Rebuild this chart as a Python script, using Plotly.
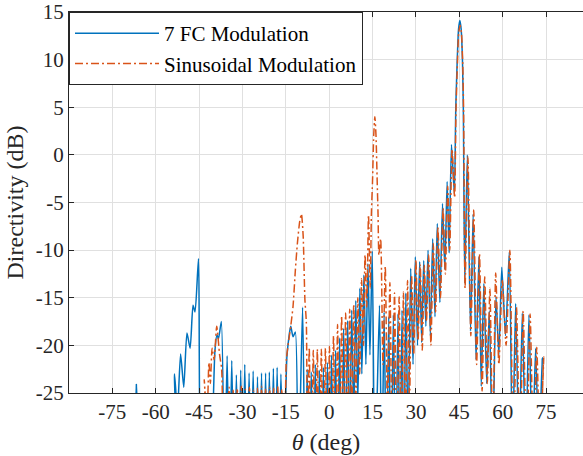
import plotly.graph_objects as go

# ---- data (theta in deg, directivity in dB); values below -25 are nulls clipped by the axis ----
fc7_theta = [-90, -67.6, -66.7, -65.8, -54.6, -53.5, -52.5, -51.4, -50.3, -49.2, -48.1, -47.1, -46.4, -45.2, -44.2,
             -41.0, -40.4, -39.5, -38.8, -38.3, -37.3, -36.2,
             -35.3, -34.5, -33.7, -32.9, -32.1, -31.35, -30.6, -29.9, -29.2, -28.45, -27.7, -27.0, -26.3, -25.55,
             -24.8, -24.1, -23.4, -22.7, -22.0, -21.35, -20.7, -20.0, -19.3, -18.65, -18.0, -17.35, -16.7, -15.7,
             -14.6, -13.3, -12.5, -11.7, -10.7, -9.2, -8.3,
             -7.6, -6.9, -6.2, -5.5, -4.8, -4.1, -3.4, -2.7, -2.0, -1.3, -0.6, 0.1, 0.8, 1.5, 2.2, 2.9, 3.6, 4.3,
             5.0, 5.7, 6.4, 7.1, 7.8, 8.5, 9.2, 9.9, 10.6, 11.3, 12.0, 12.7, 13.4, 14.1, 14.9, 15.8,
             17.4, 18.2, 19.0, 19.8, 20.6, 21.4, 22.2, 23.0, 23.8, 24.5, 25.2, 25.85, 26.5, 27.3,
             28.2, 29.0, 29.8, 30.55, 31.3, 32.0, 32.7, 33.45, 34.2, 35.0, 35.8, 36.6, 37.4, 38.3, 39.2, 40.0,
             40.8, 41.5, 42.3, 43.3, 43.8, 44.3, 44.75, 45.2, 45.65, 46.1, 46.4, 46.9,
             47.8, 48.9, 49.8, 50.8, 51.8, 52.6, 53.5, 54.5, 55.4, 56.5, 57.7, 58.7, 59.7, 61.0, 62.3, 63.4,
             64.5, 65.7, 66.8, 68.0, 69.1, 70.3, 71.4, 72.6, 73.7, 74.9, 90]
fc7_db = [-40, -40, -24.1, -40, -40, -23.0, -27, -20.9, -24.4, -18.7, -20.3, -15.8, -16.5, -10.9, -35,
          -40, -30, -20.5, -18.9, -19.3, -17.5, -35,
          -21.1, -35, -21.6, -35, -23.1, -35, -22.6, -35, -22.0, -35, -22.9, -35, -22.7, -35,
          -23.3, -35, -22.9, -35, -22.9, -35, -22.8, -35, -22.4, -35, -22.3, -35, -23.0, -35,
          -21.1, -18.0, -19.1, -18.6, -35, -16.0, -35,
          -22.5, -35, -22.8, -35, -22.0, -35, -22.6, -35, -22.3, -35, -21.8, -35, -21.0, -35, -20.5, -35, -19.2, -35,
          -18.2, -32, -17.4, -30, -16.3, -28, -15.3, -26, -14.0, -23, -12.6, -22, -11.4, -21, -10.1, -35,
          -15.8, -35, -16.5, -35, -17.0, -35, -16.8, -35, -16.7, -35, -16.3, -35, -14.5, -30,
          -11.9, -22, -10.7, -20, -11.2, -19.7, -11.1, -18, -10.0, -19, -8.8, -17, -7.2, -15.5, -5.1, -12,
          -2.8, -10.3, 1.1, -4.1, 5.0, 10.0, 13.2, 14.1, 13.2, 10.0, 5.0, -13.5,
          0.0, -18.5, -6.2, -21.5, -10.7, -24.3, -13.5, -24, -16.4, -32, -14.9, -21, -11.8, -19, -10.2, -32,
          -15.6, -32, -16.6, -32, -16.8, -32, -20.3, -32, -21.3, -40, -40]

sin_theta = [-90, -44.0, -43.2, -42.4, -41.6, -41.1, -40.5, -39.8, -38.9, -37.9, -37.2, -36.4,
             -34.6, -33.9, -33.2, -32.5, -31.8, -31.1, -30.4, -29.7, -29.0, -28.3, -27.6, -26.9, -26.2, -25.5,
             -24.8, -24.1, -23.4, -22.7, -22.0, -21.3, -20.6, -19.9, -19.2, -18.5, -17.8, -17.1, -16.4, -15.5,
             -14.8, -13.3, -12.5, -11.7, -11.0, -10.2, -9.6, -9.0, -8.4, -7.9, -7.5,
             -6.9, -6.2, -5.5, -4.8, -4.1, -3.4, -2.7, -2.0, -1.3, -0.6, 0.1, 0.8, 1.5, 2.2, 2.9, 3.6, 4.3,
             5.0, 5.7, 6.4, 7.1, 7.8, 8.5, 9.2, 9.9, 10.55, 11.2, 11.85, 12.4, 13.0, 13.6, 14.2,
             14.6, 15.0, 15.4, 15.8, 16.2, 16.6, 16.9, 17.2, 17.8, 18.6, 19.4, 20.2, 21.0, 21.8, 22.6, 23.4,
             24.2, 24.95, 25.7, 26.4, 27.1, 27.8, 28.5, 29.25, 30.0, 30.75, 31.5, 32.2, 32.9, 33.65, 34.4, 35.2,
             36.0, 36.8, 37.6, 38.5, 39.4, 40.2, 41.0, 41.7, 42.5, 43.4, 43.85, 44.35, 44.8, 45.3, 45.75, 46.2,
             46.5, 47.0, 48.0, 49.0, 50.0, 51.0, 52.0, 52.9, 53.8, 54.7, 55.6, 56.6, 57.6, 58.7, 59.9, 61.2,
             62.5, 63.7, 64.8, 66.0, 67.1, 68.3, 69.5, 70.7, 71.8, 73.0, 74.2, 75.3, 90]
sin_db = [-40, -40, -23.6, -30, -21.8, -24, -20.3, -21.5, -18.0, -21, -22.5, -35,
          -24.4, -35, -24.7, -35, -24.5, -35, -24.3, -35, -24.6, -35, -24.4, -35, -24.7, -35,
          -24.5, -35, -24.3, -35, -24.6, -35, -24.4, -35, -24.5, -35, -24.3, -35, -24.6, -35,
          -21.5, -18.0, -15.9, -12.1, -9.3, -7.0, -6.2, -8.5, -15.2, -17.6, -35,
          -20.2, -35, -20.5, -35, -20.4, -35, -20.4, -35, -20.3, -35, -20.1, -35, -19.0, -35, -17.8, -33, -16.9,
          -32, -16.6, -30, -16.2, -28, -15.7, -26, -15.0, -23, -13.0, -20, -10.5, -16, -6.3, -14,
          -6.2, -2.7, 2.0, 4.0, 2.0, -2.7, -6.2, -10.5, -8.8, -22, -11.7, -28, -13.4, -32, -14.5, -32,
          -14.9, -32, -14.4, -30, -13.2, -26, -12.6, -21, -11.0, -19.5, -11.5, -20.5, -11.6, -17.5, -10.5, -20,
          -9.3, -16.5, -7.6, -15, -5.6, -12.5, -3.3, -10, 0.6, -4.5, 4.5, 9.5, 12.8, 13.6, 12.8, 9.5,
          4.5, -14, -0.2, -19, -5.8, -22, -10.4, -24.8, -12.8, -24, -14.0, -31, -12.4, -22, -13.2, -20,
          -10.0, -33, -16.0, -32, -16.4, -32, -16.7, -32, -20.2, -33, -21.2, -40, -40]

x_ticks = [-75, -60, -45, -30, -15, 0, 15, 30, 45, 60, 75]
x_labels = ["-75", "-60", "-45", "-30", "-15", "0", "15", "30", "45", "60", "75"]
y_ticks = [-25, -20, -15, -10, -5, 0, 5, 10, 15]
y_labels = ["-25", "-20", "-15", "-10", "-5", "0", "5", "10", "15"]

FONT = "Liberation Serif"
AX = "#262626"

fig = go.Figure()
fig.add_trace(go.Scatter(x=fc7_theta, y=fc7_db, mode="lines", name="7 FC Modulation",
                         line=dict(color="#0072BD", width=1.5, shape="spline", smoothing=0.6)))
fig.add_trace(go.Scatter(x=sin_theta, y=sin_db, mode="lines", name="Sinusoidal Modulation",
                         line=dict(color="#D95319", width=1.5, dash="8px,3px,2px,3px",
                                   shape="spline", smoothing=0.6)))

fig.update_layout(
    width=583, height=456,
    margin=dict(l=69, r=0, t=10, b=63),
    paper_bgcolor="white", plot_bgcolor="white",
    font=dict(family=FONT, size=21, color=AX),
    legend=dict(x=0, y=1, xanchor="left", yanchor="top", bgcolor="white",
                bordercolor=AX, borderwidth=1, itemwidth=84,
                font=dict(family=FONT, size=21, color="black"),
                tracegroupgap=0),
    showlegend=True,
)
fig.update_xaxes(range=[-90, 87.8], tickvals=x_ticks, ticktext=x_labels,
                 showgrid=True, gridcolor="#e0e0e0", gridwidth=1, zeroline=False,
                 showline=True, linecolor=AX, linewidth=1, mirror="ticks",
                 ticks="inside", ticklen=5, tickcolor=AX, ticklabeloverflow="allow",
                 tickfont=dict(family=FONT, size=21, color=AX),
                 title=dict(text="<i>θ</i> (deg)", font=dict(family=FONT, size=24, color=AX), standoff=9))
fig.update_yaxes(range=[-25, 15], tickvals=y_ticks, ticktext=y_labels,
                 showgrid=True, gridcolor="#e0e0e0", gridwidth=1, zeroline=False,
                 showline=True, linecolor=AX, linewidth=1, mirror=False,
                 ticks="inside", ticklen=5, tickcolor=AX, ticklabeloverflow="allow",
                 tickfont=dict(family=FONT, size=21, color=AX),
                 title=dict(text="Directivity (dB)", font=dict(family=FONT, size=24, color=AX), standoff=5))

fig.write_html("out.html")
